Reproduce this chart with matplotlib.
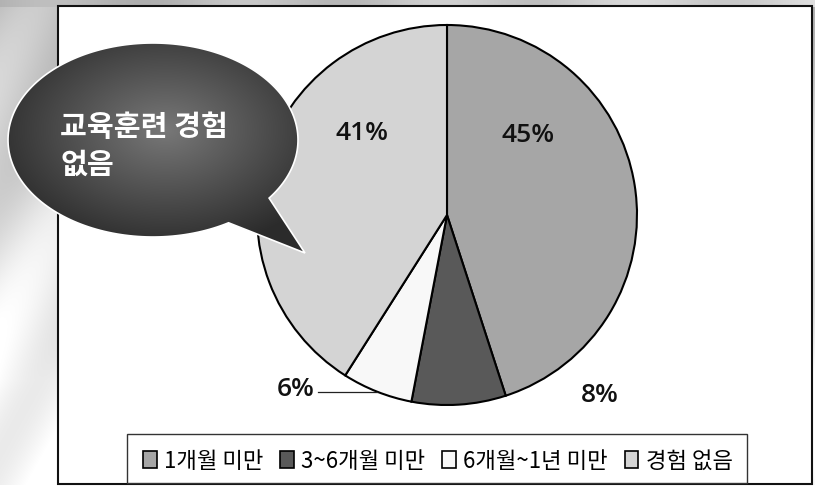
import numpy as np
import matplotlib
matplotlib.use("Agg")
import matplotlib.pyplot as plt
from matplotlib.patches import Rectangle, Patch, PathPatch
from matplotlib.path import Path

# data
labels = ["1개월 미만", "3~6개월 미만", "6개월~1년 미만", "경험 없음"]
values = [45, 8, 6, 41]
colors = ["#a6a6a6", "#595959", "#f8f8f8", "#d4d4d4"]
pct_text = ["45%", "8%", "6%", "41%"]
callout = "교육훈련 경험\n없음"

W, H = 815, 486
KR = ["Noto Sans CJK KR", "DejaVu Sans"]

def Y(y):
    return H - y

fig = plt.figure(figsize=(W / 100, H / 100), dpi=100)
ax = fig.add_axes([0, 0, 1, 1])

# gray cloudy backdrop outside the chart frame
yy, xx = np.mgrid[0:H, 0:W]
g = 0.74 + 0.24 * np.clip(yy / 380.0, 0, 1) + 0.06 * np.sin(xx / 23.0 + yy / 41.0)
g = np.where(yy < 8, 0.70 + 0.14 * xx / W + 0.04 * np.sin(xx / 31.0), g)
g = np.where(yy > 484, 1.0, g)
g = np.clip(g, 0, 1)
bg = np.dstack([g, g, g])
ax.imshow(bg, extent=[0, W, 0, H], origin="upper", zorder=0)

# chart frame
ax.add_patch(Rectangle((58, Y(484)), 812 - 58, 484 - 6, facecolor="white",
                       edgecolor="#111111", lw=1.5, zorder=1))

# pie
wedges, _ = ax.pie(values, colors=colors, startangle=90, counterclock=False,
                   center=(447, Y(215)), radius=190,
                   wedgeprops=dict(edgecolor="black", linewidth=1.5))
for w in wedges:
    w.set_zorder(2)

pct_pos = [(528, 135), (600, 395), (296, 389), (362, 133)]
for t, (px, py) in zip(pct_text, pct_pos):
    ax.text(px, Y(py), t, ha="center", va="center", fontsize=19,
            family="Open Sans", fontweight="semibold", color="#111111", zorder=5)
ax.plot([318, 377], [Y(392), Y(392)], color="#222222", lw=0.9, zorder=5)

# legend box
ax.add_patch(Rectangle((127, Y(483)), 747 - 127, 483 - 434, facecolor="white",
                       edgecolor="#333333", lw=1.0, zorder=3))
handles = [Patch(facecolor=c, edgecolor="black", lw=1.2) for c in colors]
leg = ax.legend(handles, labels, loc="center", ncol=4, frameon=False,
                bbox_to_anchor=(438 / W, 1 - 461 / H), bbox_transform=fig.transFigure,
                prop={"family": KR, "size": 16}, handlelength=0.6, handleheight=0.8,
                handletextpad=0.35, columnspacing=0.75, borderpad=0)
leg.set_zorder(4)

# speech bubble
cx, cy, a, b = 153, 140, 145, 97
t1 = np.deg2rad(36.8)
t2 = np.deg2rad(58.6)
ts = np.linspace(t2, t1 + 2 * np.pi, 200)
pts = [(cx + a * np.cos(t), Y(cy + b * np.sin(t))) for t in ts]
pts.append((305, Y(253)))
pts.append(pts[0])
bubble = Path(pts, closed=True)
outline = PathPatch(bubble, facecolor="none", edgecolor="white", lw=1.2, zorder=7)
clip = PathPatch(bubble, facecolor="none", edgecolor="none", transform=ax.transData)
ax.add_patch(clip)
gy, gx = np.mgrid[30:260, 0:320]
r = np.sqrt(((gx - 165) / 150.0) ** 2 + ((gy - 130) / 100.0) ** 2)
v = np.clip(0.47 - 0.25 * r, 0.17, 1)
grad = np.dstack([v, v, v])
im = ax.imshow(grad, extent=[0, 320, Y(260), Y(30)], origin="upper", zorder=6)
im.set_clip_path(clip)
ax.add_patch(outline)
ax.text(60, Y(146), callout, ha="left", va="center", fontsize=21,
        family=KR, fontweight="bold", color="white", linespacing=1.3, zorder=8)

ax.set_xlim(0, W)
ax.set_ylim(0, H)
ax.set_aspect("auto")
ax.axis("off")

fig.savefig("out.png", dpi=100)
